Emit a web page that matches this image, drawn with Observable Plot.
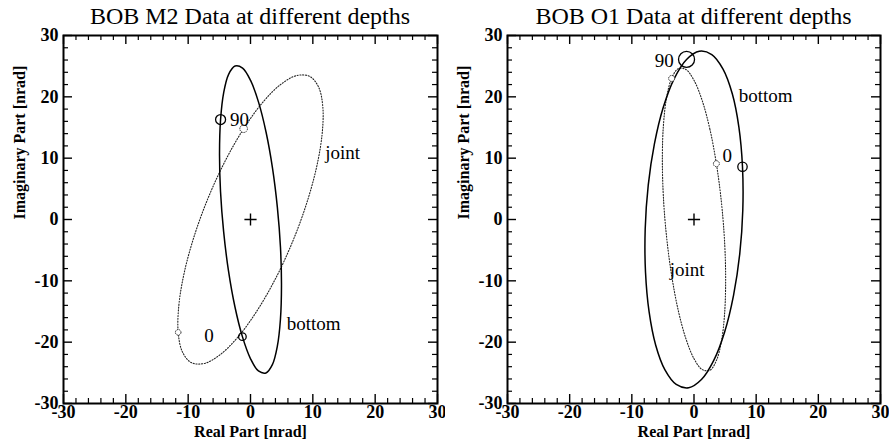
<!DOCTYPE html>
<html><head><meta charset="utf-8">
<script src="https://cdn.jsdelivr.net/npm/d3@7"></script>
<script src="https://cdn.jsdelivr.net/npm/@observablehq/plot@0.6"></script>
<style>
html,body{margin:0;padding:0;background:#fff;}
#wrap{display:flex;width:889px;height:447px;overflow:hidden;background:#fff;}
.panel{position:relative;}
.title{font-family:"Liberation Serif",serif;font-size:24px;height:31px;line-height:33px;text-align:center;white-space:nowrap;color:#000;box-sizing:border-box;}
svg{overflow:visible;display:block;}
</style></head><body><div id="wrap"></div>
<script>
// ---- data ----
const majorTicks = [-30, -20, -10, 0, 10, 20, 30];
const minorTicks = [-28, -26, -24, -22, -18, -16, -14, -12, -8, -6, -4, -2, 2, 4, 6, 8, 12, 14, 16, 18, 22, 24, 26, 28];
const tickLabels = ["-30", "-20", "-10", "0", "10", "20", "30"];
const titles = ["BOB M2 Data at different depths", "BOB O1 Data at different depths"];
const xLabel = "Real Part [nrad]";
const yLabel = "Imaginary Part [nrad]";

// ellipse outlines [real, imaginary]
const m2Bottom = [[-1.30,-19.10],[-2.50,-14.23],[-3.53,-8.39],[-4.31,-1.98],[-4.81,4.57],[-4.97,10.80],[-4.80,16.30],[-4.30,20.70],[-3.51,23.67],[-2.48,25.02],[-1.27,24.69],[0.01,22.67],
  [1.30,19.10],[2.50,14.23],[3.53,8.39],[4.31,1.98],[4.81,-4.57],[4.97,-10.80],[4.80,-16.30],[4.30,-20.70],[3.51,-23.67],[2.48,-25.02],[1.27,-24.69],[-0.01,-22.67]];
const m2Joint = [[-11.60,-18.40],[-11.49,-13.94],[-10.60,-8.53],[-8.98,-2.55],[-6.75,3.62],[-4.07,9.53],[-1.10,14.80],[1.94,19.07],[4.85,22.02],[7.42,23.47],[9.50,23.33],[10.92,21.60],
  [11.60,18.40],[11.49,13.94],[10.60,8.53],[8.98,2.55],[6.75,-3.62],[4.07,-9.53],[1.10,-14.80],[-1.94,-19.07],[-4.85,-22.02],[-7.42,-23.47],[-9.50,-23.33],[-10.92,-21.60]];
const o1Bottom = [[7.80,8.60],[7.22,15.07],[6.16,20.50],[4.67,24.53],[2.86,26.90],[0.86,27.44],[-1.20,26.10],[-3.18,22.98],[-4.94,18.30],[-6.36,12.37],[-7.36,5.60],[-7.85,-1.55],
  [-7.80,-8.60],[-7.22,-15.07],[-6.16,-20.50],[-4.67,-24.53],[-2.86,-26.90],[-0.86,-27.44],[1.20,-26.10],[3.18,-22.98],[4.94,-18.30],[6.36,-12.37],[7.36,-5.60],[7.85,1.55]];
const o1Joint = [[3.60,9.10],[2.55,14.75],[1.32,19.38],[0.00,22.69],[-1.32,24.47],[-2.55,24.58],[-3.60,23.00],[-4.41,19.86],[-4.92,15.37],[-5.09,9.83],[-4.92,3.62],[-4.41,-2.83],
  [-3.60,-9.10],[-2.55,-14.75],[-1.32,-19.38],[0.00,-22.69],[1.32,-24.47],[2.55,-24.58],[3.60,-23.00],[4.41,-19.86],[4.92,-15.37],[5.09,-9.83],[4.92,-3.62],[4.41,2.83]];

// phase 0 and phase 90 points [real, imaginary]
const m2BottomPhase0 = [-1.3, -19.1], m2BottomPhase90 = [-4.8, 16.3];
const m2JointPhase0 = [-11.6, -18.4], m2JointPhase90 = [-1.1, 14.8];
const o1BottomPhase0 = [7.8, 8.6], o1BottomPhase90 = [-1.2, 26.1];
const o1JointPhase0 = [3.6, 9.1], o1JointPhase90 = [-3.6, 23.0];

// annotations [text, real, imaginary]
const m2Labels = [["90", -3.3, 16.3], ["0", -7.4, -18.9], ["joint", 12.0, 10.9], ["bottom", 5.8, -17.0]];
const o1Labels = [["90", -6.3, 25.9], ["0", 4.6, 10.4], ["bottom", 7.2, 20.1], ["joint", -3.9, -8.2]];
const center = [[0, 0]];

// ---- drawing ----
function panel(title, bottom, joint, b0, b90, j0, j90, labels, opts) {
  const {width, marginLeft, marginRight, rB0, rB90, rJ0, rJ90} = opts;
  const height = 416, marginTop = 4, marginBottom = 44;
  const fh = height - marginTop - marginBottom;
  const fw = width - marginLeft - marginRight;
  const maj = 9, min = 5;
  const dotted = {stroke: "#222", strokeWidth: 1.1, strokeDasharray: "1.1,1.7"};
  const dottedMarker = {stroke: "#222", strokeWidth: 1, strokeDasharray: "1.4,0.9"};
  const div = document.createElement("div");
  div.className = "panel";
  div.style.width = width + "px";
  const t = document.createElement("div");
  t.className = "title";
  t.style.paddingLeft = marginLeft + "px";
  t.style.paddingRight = marginRight + "px";
  t.textContent = title;
  div.appendChild(t);
  const idx = majorTicks.map((_, i) => i);
  const svg = Plot.plot({
    width, height, marginTop, marginBottom, marginLeft, marginRight,
    style: {fontFamily: "Liberation Serif, serif", fontSize: "18px", background: "white", color: "black", overflow: "visible"},
    x: {domain: [-30, 30], axis: null},
    y: {domain: [-30, 30], axis: null},
    marks: [
      Plot.line(joint, {x: d => d[0], y: d => d[1], curve: "catmull-rom-closed", ...dotted}),
      Plot.line(bottom, {x: d => d[0], y: d => d[1], curve: "catmull-rom-closed", stroke: "black", strokeWidth: 1.5}),
      Plot.dot([j0], {x: d => d[0], y: d => d[1], r: rJ0, fill: "white", ...dottedMarker}),
      Plot.dot([j90], {x: d => d[0], y: d => d[1], r: rJ90, fill: "white", ...dottedMarker}),
      Plot.dot([b0], {x: d => d[0], y: d => d[1], r: rB0, stroke: "black", strokeWidth: 1.3}),
      Plot.dot([b90], {x: d => d[0], y: d => d[1], r: rB90, stroke: "black", strokeWidth: 1.3}),
      Plot.dot(center, {x: d => d[0], y: d => d[1], symbol: "plus", r: 4, stroke: "black", strokeWidth: 1.4}),
      Plot.text(labels, {x: d => d[1], y: d => d[2], text: d => d[0], textAnchor: "start", fontSize: 19, fill: "black"}),
      // ticks (inward, all four sides)
      Plot.tickX(majorTicks, {x: d => d, insetTop: fh - maj, stroke: "black", strokeWidth: 1.4}),
      Plot.tickX(minorTicks, {x: d => d, insetTop: fh - min, stroke: "black", strokeWidth: 1.2}),
      Plot.tickX(majorTicks, {x: d => d, insetBottom: fh - maj, stroke: "black", strokeWidth: 1.4}),
      Plot.tickX(minorTicks, {x: d => d, insetBottom: fh - min, stroke: "black", strokeWidth: 1.2}),
      Plot.tickY(majorTicks, {y: d => d, insetRight: fw - maj, stroke: "black", strokeWidth: 1.4}),
      Plot.tickY(minorTicks, {y: d => d, insetRight: fw - min, stroke: "black", strokeWidth: 1.2}),
      Plot.tickY(majorTicks, {y: d => d, insetLeft: fw - maj, stroke: "black", strokeWidth: 1.4}),
      Plot.tickY(minorTicks, {y: d => d, insetLeft: fw - min, stroke: "black", strokeWidth: 1.2}),
      // tick labels
      Plot.text(idx, {x: i => majorTicks[i], text: i => tickLabels[i], frameAnchor: "bottom", lineAnchor: "top", dy: 2, fontSize: 18, fontWeight: "bold", fill: "black"}),
      Plot.text(idx, {y: i => majorTicks[i], text: i => tickLabels[i], frameAnchor: "left", textAnchor: "end", dx: -5, fontSize: 18, fontWeight: "bold", fill: "black"}),
      Plot.text([xLabel], {frameAnchor: "bottom", dy: 33, text: d => d, fontSize: 16, fontWeight: "bold", fill: "black"}),
      Plot.text([yLabel], {frameAnchor: "left", dx: -44, rotate: -90, text: d => d, fontSize: 16, fontWeight: "bold", fill: "black"}),
      Plot.frame({stroke: "black", strokeWidth: 2})
    ]
  });
  div.appendChild(svg);
  return div;
}

const wrap = document.getElementById("wrap");
wrap.appendChild(panel(titles[0], m2Bottom, m2Joint, m2BottomPhase0, m2BottomPhase90, m2JointPhase0, m2JointPhase90, m2Labels,
  {width: 445, marginLeft: 63, marginRight: 8, rB0: 3.8, rB90: 5, rJ0: 2.8, rJ90: 3.8}));
wrap.appendChild(panel(titles[1], o1Bottom, o1Joint, o1BottomPhase0, o1BottomPhase90, o1JointPhase0, o1JointPhase90, o1Labels,
  {width: 444, marginLeft: 62, marginRight: 9, rB0: 4.7, rB90: 8, rJ0: 3, rJ90: 3}));
</script>
</body></html>
